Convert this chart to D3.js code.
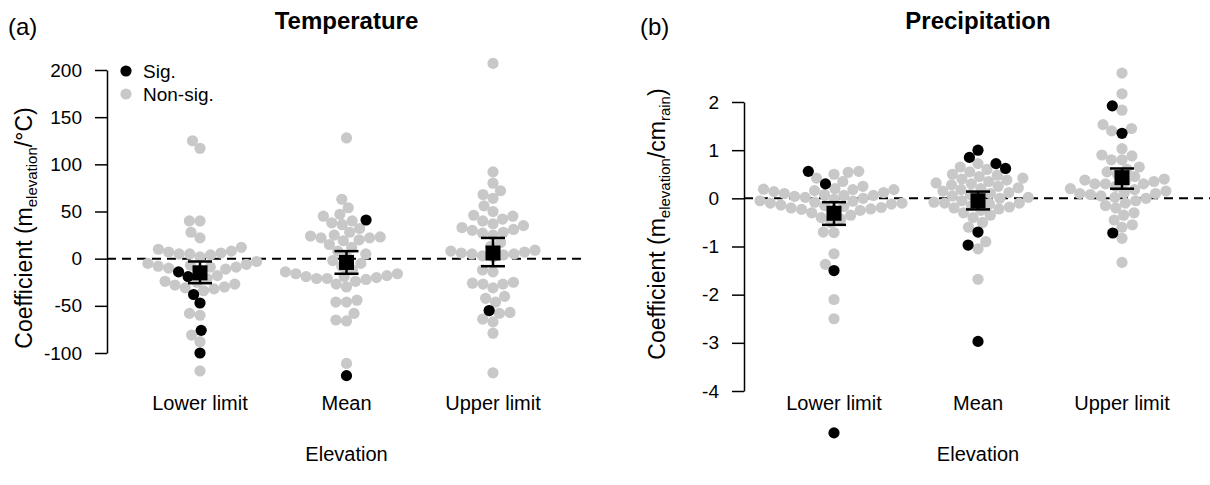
<!DOCTYPE html>
<meta charset="utf-8">
<style>
    body { margin: 0; background: #fff; }
    text { font-family: "Liberation Sans", Arial, Helvetica, sans-serif; fill: #000; }
    .axis text { font-size: 19px; }
    .axis path, .axis line { stroke: #000; stroke-width: 1.5px; }
    .cat { font-size: 20px; text-anchor: middle; }
    .ylab { font-size: 23px; text-anchor: middle; }
    .ttl { font-size: 24px; font-weight: bold; text-anchor: middle; }
    .tag { font-size: 24px; }
</style>
<body>
<script src="https://d3js.org/d3.v7.min.js"></script>
<script>

    var categories = ["Lower limit", "Mean", "Upper limit"];

    // Temperature coefficients (m elevation / degree C)
    var tempGray = [
        [125, 117, 40, 40, 28, 22, 12, 10, 8, 7, 6, 5, 5, 4, 2, -3, -5, -6, -7, -8, -9, -9, -10, -11, -12,
         -18, -21, -24, -25, -27, -28, -30, -31, -32, -34, -58, -60, -81, -88, -119],
        [128, 63, 54, 47, 45, 40, 38, 36, 32, 28, 25, 24, 23, 22, 22, 20, 19, 15, 12, 8, 5, 2, -2, -5, -8,
         -12, -14, -16, -16, -18, -19, -19, -20, -21, -21, -22, -24, -27, -30, -44, -46, -46, -58, -65, -66, -111],
        [207, 92, 80, 72, 68, 64, 56, 50, 46, 45, 42, 40, 37, 35, 33, 31, 30, 28, 27, 25, 17, 13, 9, 8, 7, 6,
         5, 5, 4, 3, 2, -12, -14, -25, -26, -27, -27, -31, -40, -42, -46, -57, -58, -64, -67, -79, -121]
    ];
    var tempSig = [
        [-14, -19, -38, -47, -76, -100],
        [41, -124],
        [-55]
    ];
    var tempMean = [-15, -4, 6];
    var tempLo = [-26, -16, -8];
    var tempHi = [-3, 8, 22];
    var tempTicks = [200, 150, 100, 50, 0, -50, -100];

    // Precipitation coefficients (m elevation / cm rain)
    var precGray = [
        [0.56, 0.54, 0.5, 0.42, 0.35, 0.25, 0.2, 0.19, 0.18, 0.18, 0.16, 0.14, 0.12, 0.1, 0.08, 0.06, 0.06, 0.04,
         0.02, 0, -0.02, -0.05, -0.06, -0.08, -0.1, -0.1, -0.12, -0.14, -0.15, -0.17, -0.19, -0.2, -0.22, -0.23,
         -0.25, -0.3, -0.35, -0.4, -0.43, -0.5, -0.7, -0.71, -1.15, -1.37, -2.1, -2.5],
        [0.72, 0.65, 0.6, 0.55, 0.5, 0.48, 0.45, 0.42, 0.4, 0.38, 0.35, 0.32, 0.3, 0.28, 0.25, 0.22, 0.2, 0.18,
         0.15, 0.12, 0.1, 0.08, 0.05, 0.02, 0, -0.02, -0.05, -0.08, -0.1, -0.1, -0.12, -0.15, -0.18, -0.2, -0.22,
         -0.25, -0.3, -0.35, -0.4, -0.5, -0.6, -0.9, -1.05, -1.68],
        [2.6, 2.17, 1.83, 1.53, 1.45, 1.4, 1.03, 0.9, 0.88, 0.8, 0.8, 0.65, 0.6, 0.55, 0.5, 0.45, 0.4, 0.38, 0.35,
         0.35, 0.3, 0.3, 0.3, 0.25, 0.2, 0.18, 0.15, 0.12, 0.1, 0.1, 0.08, 0.05, 0.02, 0, -0.05, -0.1, -0.15, -0.2,
         -0.3, -0.35, -0.45, -0.55, -0.6, -0.83, -1.33]
    ];
    var precSig = [
        [0.56, 0.3, -0.26, -1.5, -4.87],
        [1.0, 0.85, 0.72, 0.62, -0.7, -0.97, -2.97],
        [1.92, 1.35, -0.72]
    ];
    var precMean = [-0.31, -0.05, 0.43];
    var precLo = [-0.55, -0.23, 0.2];
    var precHi = [-0.08, 0.14, 0.62];
    var precTicks = [2, 1, 0, -1, -2, -3, -4];

    var width = 1210, height = 485, r = 5.6;

    var svg = d3.select("body").append("svg")
        .attr("width", width)
        .attr("height", height);

    // swarm layout: place points bottom-up at the free x offset nearest the centre
    function swarm(vals, y) {
        var pts = vals.map(function (d) { return { v: d.v, sig: d.sig, y: y(d.v), dx: 0 }; })
            .sort(function (a, b) { return a.v - b.v; });
        var placed = [], md = 2 * r * 0.95;
        pts.forEach(function (p) {
            var near = placed.filter(function (q) { return Math.abs(q.y - p.y) < md; });
            var cands = [0];
            near.forEach(function (q) {
                var h = Math.sqrt(md * md - (q.y - p.y) * (q.y - p.y));
                cands.push(q.dx + h, q.dx - h);
            });
            cands = cands.filter(function (c) {
                return near.every(function (q) {
                    var a = q.dx - c, b = q.y - p.y;
                    return a * a + b * b >= md * md - 0.01;
                });
            });
            cands.sort(function (a, b) { return Math.abs(a) - Math.abs(b) || a - b; });
            p.dx = cands[0];
            placed.push(p);
        });
        return pts;
    }

    function panel(o) {
        var x = d3.scalePoint().domain(categories).range(o.xRange);
        var y = d3.scaleLinear().domain(o.yDomain).range(o.yRange);
        var g = svg.append("g");

        g.append("g")
            .attr("class", "axis")
            .attr("transform", "translate(" + o.axisX + ",0)")
            .call(d3.axisLeft(y).tickValues(o.ticks).tickSize(12).tickSizeOuter(0).tickPadding(13)
                .tickFormat(function (d) { return String(d); }))
            .call(function (a) { a.selectAll("text").style("font-size", "19px").attr("font-family", null); });

        g.append("line")
            .attr("x1", o.axisX).attr("x2", o.lineEnd)
            .attr("y1", y(0)).attr("y2", y(0))
            .attr("stroke", "#000").attr("stroke-width", 2)
            .attr("stroke-dasharray", "9,6");

        categories.forEach(function (c, i) {
            var vals = o.gray[i].map(function (v) { return { v: v, sig: false }; })
                .concat(o.sig[i].map(function (v) { return { v: v, sig: true }; }));
            var pts = swarm(vals, y);
            pts.sort(function (a, b) { return a.sig - b.sig; });
            g.append("g").selectAll("circle")
                .data(pts)
                .enter().append("circle")
                .attr("cx", function (d) { return x(c) + d.dx; })
                .attr("cy", function (d) { return d.y; })
                .attr("r", r)
                .attr("fill", function (d) { return d.sig ? "#000" : "#c8c8c8"; });

            var eb = g.append("g").attr("stroke", "#000").attr("stroke-width", 2.5);
            eb.append("line").attr("x1", x(c)).attr("x2", x(c)).attr("y1", y(o.lo[i])).attr("y2", y(o.hi[i]));
            eb.append("line").attr("x1", x(c) - 12).attr("x2", x(c) + 12).attr("y1", y(o.lo[i])).attr("y2", y(o.lo[i]));
            eb.append("line").attr("x1", x(c) - 12).attr("x2", x(c) + 12).attr("y1", y(o.hi[i])).attr("y2", y(o.hi[i]));
            g.append("rect")
                .attr("x", x(c) - 7.5).attr("y", y(o.mean[i]) - 7.5)
                .attr("width", 15).attr("height", 15)
                .attr("fill", "#000");

            g.append("text").attr("class", "cat")
                .attr("x", x(c)).attr("y", 410)
                .text(c);
        });

        g.append("text").attr("class", "cat")
            .attr("x", x("Mean")).attr("y", 461)
            .text("Elevation");

        g.append("text").attr("class", "ttl")
            .attr("x", x("Mean")).attr("y", 29)
            .text(o.title);

        g.append("text").attr("class", "tag")
            .attr("x", o.tagX).attr("y", 35)
            .text(o.tag);

        var yl = g.append("text").attr("class", "ylab")
            .attr("transform", "translate(" + o.ylabX + "," + o.ylabY + ")rotate(-90)");
        yl.append("tspan").text("Coefficient (m");
        yl.append("tspan").attr("dy", 5).style("font-size", "15px").text("elevation");
        yl.append("tspan").attr("dy", -5).text("/" + o.unit);
        if (o.unitSub) {
            yl.append("tspan").attr("dy", 5).style("font-size", "15px").text(o.unitSub);
            yl.append("tspan").attr("dy", -5).text(")");
        } else {
            yl.append("tspan").text(")");
        }
        return g;
    }

    var ga = panel({
        axisX: 107, xRange: [200, 493], yDomain: [-100, 200], yRange: [353, 70], lineEnd: 585,
        ticks: tempTicks, gray: tempGray, sig: tempSig, mean: tempMean, lo: tempLo, hi: tempHi,
        title: "Temperature", tag: "(a)", tagX: 8, ylabX: 32, ylabY: 228, unit: "°C"
    });

    panel({
        axisX: 744, xRange: [834, 1122], yDomain: [-4, 2], yRange: [391, 102], lineEnd: 1210,
        ticks: precTicks, gray: precGray, sig: precSig, mean: precMean, lo: precLo, hi: precHi,
        title: "Precipitation", tag: "(b)", tagX: 640, ylabX: 665, ylabY: 224, unit: "cm", unitSub: "rain"
    });

    // legend in panel (a)
    var legend = ga.append("g");
    legend.append("circle").attr("cx", 126).attr("cy", 71).attr("r", r).attr("fill", "#000");
    legend.append("text").attr("x", 143).attr("y", 78).style("font-size", "19px").text("Sig.");
    legend.append("circle").attr("cx", 126).attr("cy", 94).attr("r", r).attr("fill", "#c8c8c8");
    legend.append("text").attr("x", 143).attr("y", 101).style("font-size", "19px").text("Non-sig.");

</script>
</body>
